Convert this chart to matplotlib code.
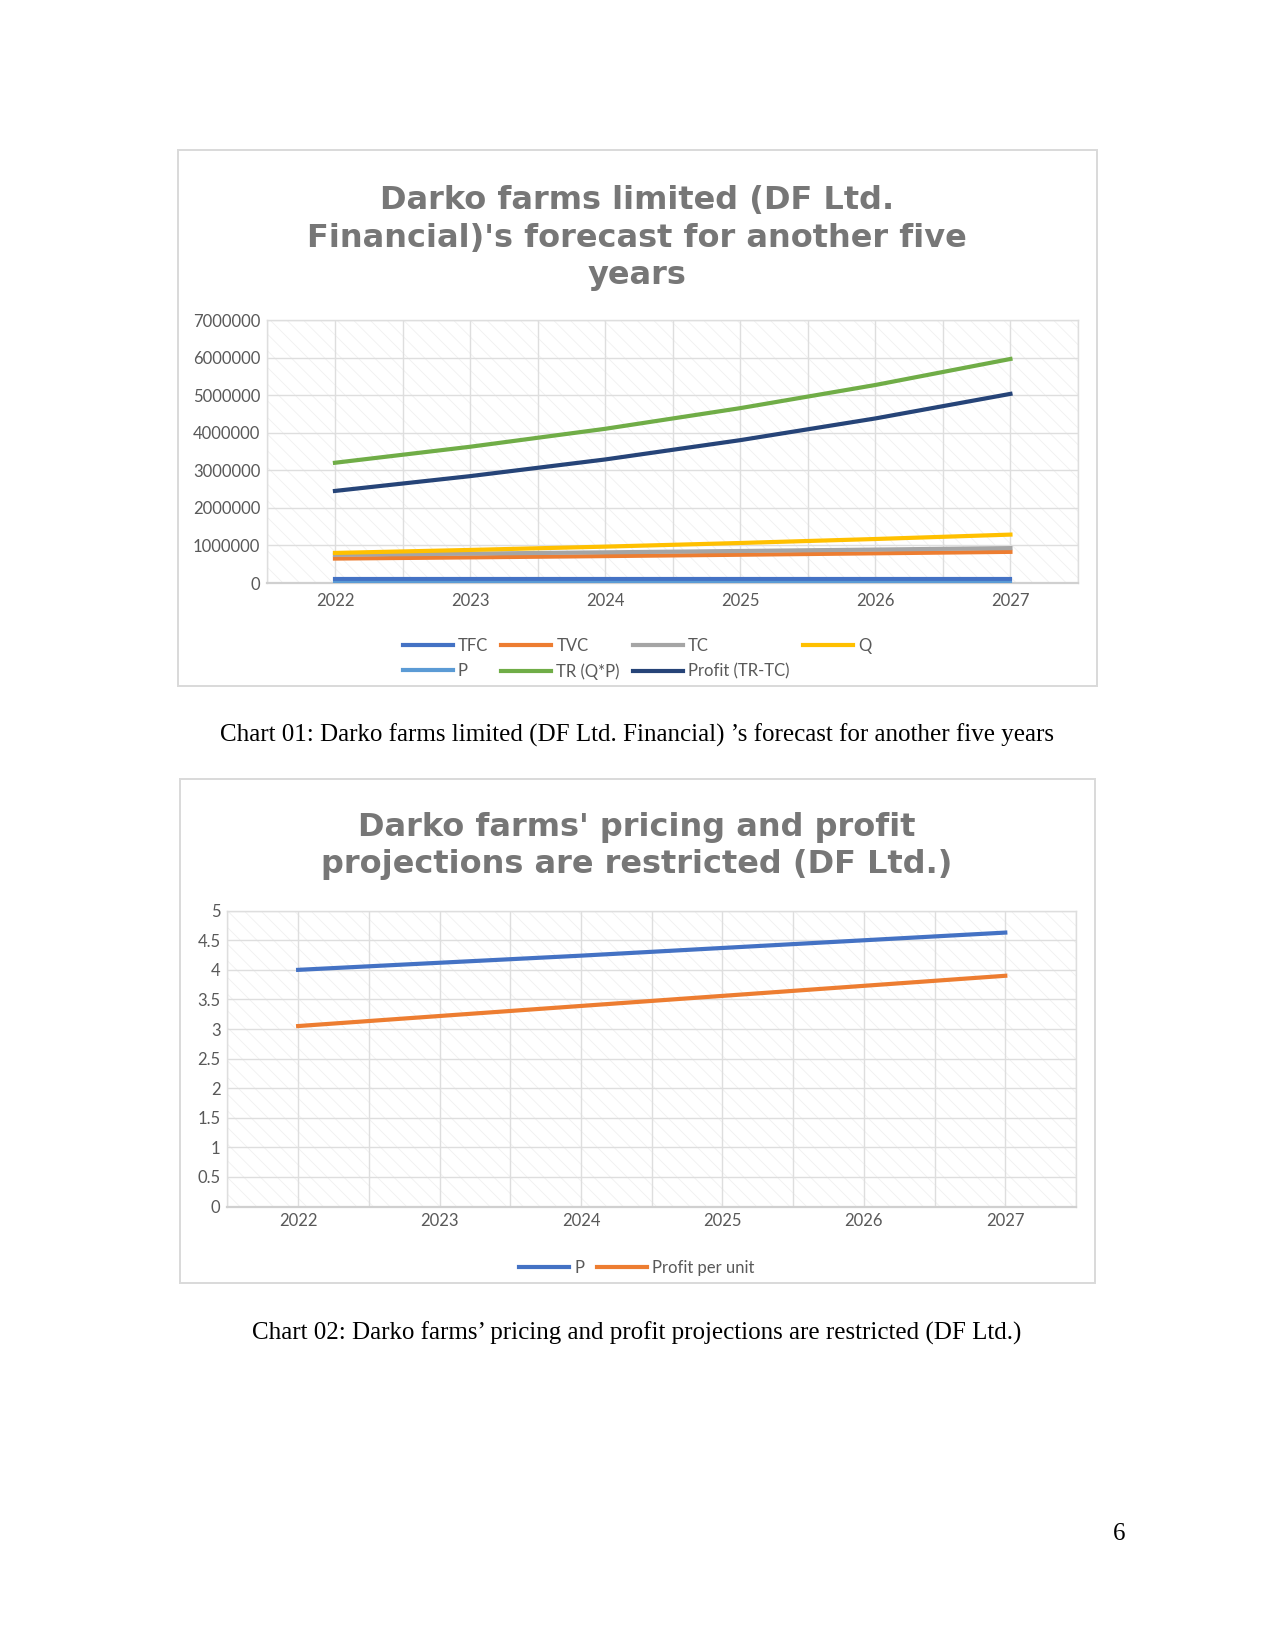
import matplotlib
matplotlib.use("Agg")
import matplotlib.pyplot as plt
from matplotlib.patches import Rectangle

plt.rcParams['hatch.linewidth'] = 0.6

years = ["2022", "2023", "2024", "2025", "2026", "2027"]

# chart 1 series
tfc = [100000, 100000, 100000, 100000, 100000, 100000]
tvc = [650000, 682000, 716000, 752000, 790000, 829000]
tc = [750000, 782000, 816000, 852000, 890000, 929000]
q = [800000, 880000, 968000, 1065000, 1171000, 1288000]
p = [4.0, 4.12, 4.24, 4.37, 4.5, 4.63]
tr = [3200000, 3626000, 4104000, 4654000, 5270000, 5963000]
profit = [2450000, 2844000, 3288000, 3802000, 4380000, 5034000]

# chart 2 series
profit_per_unit = [3.05, 3.22, 3.39, 3.56, 3.73, 3.9]

W, H = 1275, 1651
fig = plt.figure(figsize=(W / 100, H / 100), dpi=100)

TXT = "#595959"
GRID = "#dedede"
TICKFONT = "Lato"


def fig_box(x0, y0, x1, y1):
    # pixel box -> figure fraction rect
    return [x0 / W, 1 - y1 / H, (x1 - x0) / W, (y1 - y0) / H]


def frame(x0, y0, x1, y1):
    fig.patches.append(Rectangle((x0 / W, 1 - y1 / H), (x1 - x0) / W, (y1 - y0) / H,
                                 transform=fig.transFigure, fill=False,
                                 edgecolor="#d9d9d9", lw=1.4))


def style_axes(ax, ymax, ystep, fmt, xpad):
    n = len(years)
    ax.set_xlim(-0.5, n - 0.5)
    ax.set_ylim(0, ymax)
    ax.add_patch(Rectangle((0, 0), 1, 1, transform=ax.transAxes, facecolor="white",
                           edgecolor="#f0f0f0", hatch="\\\\", lw=0, zorder=0))
    ax.set_xticks(range(n))
    ax.set_xticklabels(years, fontfamily=TICKFONT, fontsize=12, color=TXT)
    ax.set_xticks([i + 0.5 for i in range(-1, n)], minor=True)
    yt = [i * ystep for i in range(int(round(ymax / ystep)) + 1)]
    ax.set_yticks(yt)
    ax.set_yticklabels([fmt(v) for v in yt], fontfamily=TICKFONT, fontsize=12, color=TXT)
    ax.tick_params(axis="both", which="both", length=0)
    ax.tick_params(axis="x", pad=xpad)
    ax.tick_params(axis="y", pad=5)
    ax.grid(True, which="both", color=GRID, lw=1.0, zorder=1)
    ax.set_axisbelow(True)
    for s in ax.spines.values():
        s.set_color(GRID)
        s.set_linewidth(1.0)
    ax.spines["bottom"].set_color("#d0d0d0")
    ax.spines["bottom"].set_linewidth(1.6)


LEG = dict(frameon=False, prop={"family": TICKFONT, "size": 12}, handlelength=3.0,
           handletextpad=0.3, columnspacing=0.8, labelcolor=TXT)

# ---------- chart 1 ----------
frame(178, 150, 1097, 686)
ax1 = fig.add_axes(fig_box(267.4, 320, 1078, 583))
style_axes(ax1, 7000000, 1000000, lambda v: str(int(v)), 7)
x = range(len(years))
lw = 3.0
l_tfc, = ax1.plot(x, tfc, color="#4472C4", lw=lw, label="TFC", zorder=3)
l_tvc, = ax1.plot(x, tvc, color="#ED7D31", lw=lw, label="TVC", zorder=3)
l_tc, = ax1.plot(x, tc, color="#A5A5A5", lw=lw, label="TC", zorder=3)
l_q, = ax1.plot(x, q, color="#FFC000", lw=lw, label="Q", zorder=3)
l_p, = ax1.plot(x, p, color="#5B9BD5", lw=lw, label="P", zorder=3)
l_tr, = ax1.plot(x, tr, color="#70AD47", lw=lw, label="TR (Q*P)", zorder=3)
l_pr, = ax1.plot(x, profit, color="#264478", lw=lw, label="Profit (TR-TC)", zorder=3)

fig.text(637 / W, 1 - 238 / H,
         "Darko farms limited (DF Ltd.\nFinancial)'s forecast for another five\nyears",
         ha="center", va="center", fontsize=23, fontweight="bold", color="#777777",
         family="DejaVu Sans", linespacing=1.27)

handles = [l_tfc, l_p, l_tvc, l_tr, l_tc, l_pr, l_q]
fig.legend(handles, [h.get_label() for h in handles], ncol=4, loc="center",
           bbox_to_anchor=(637 / W, 1 - 659 / H), labelspacing=0.55, **LEG)

fig.text(637 / W, 1 - 735 / H,
         "Chart 01: Darko farms limited (DF Ltd. Financial) \u2019s forecast for another five years",
         ha="center", va="center", fontsize=18, family="Liberation Serif", color="black")

# ---------- chart 2 ----------
frame(180, 779, 1095, 1283)
ax2 = fig.add_axes(fig_box(227.4, 910.7, 1076, 1206.5))
style_axes(ax2, 5, 0.5, lambda v: ("%g" % v), 5)
m_p, = ax2.plot(x, p, color="#4472C4", lw=lw, label="P", zorder=3)
m_pp, = ax2.plot(x, profit_per_unit, color="#ED7D31", lw=lw, label="Profit per unit", zorder=3)

fig.text(637 / W, 1 - 846 / H,
         "Darko farms' pricing and profit\nprojections are restricted (DF Ltd.)",
         ha="center", va="center", fontsize=23, fontweight="bold", color="#777777",
         family="DejaVu Sans", linespacing=1.27)

fig.legend([m_p, m_pp], ["P", "Profit per unit"], ncol=2, loc="center",
           bbox_to_anchor=(637 / W, 1 - 1268 / H), **LEG)

fig.text(637 / W, 1 - 1333 / H,
         "Chart 02: Darko farms\u2019 pricing and profit projections are restricted (DF Ltd.)",
         ha="center", va="center", fontsize=18, family="Liberation Serif", color="black")

fig.text(1119 / W, 1 - 1534 / H, "6", ha="center", va="center", fontsize=18,
         family="Liberation Serif", color="black")

fig.savefig("out.png", dpi=100, facecolor="white")
